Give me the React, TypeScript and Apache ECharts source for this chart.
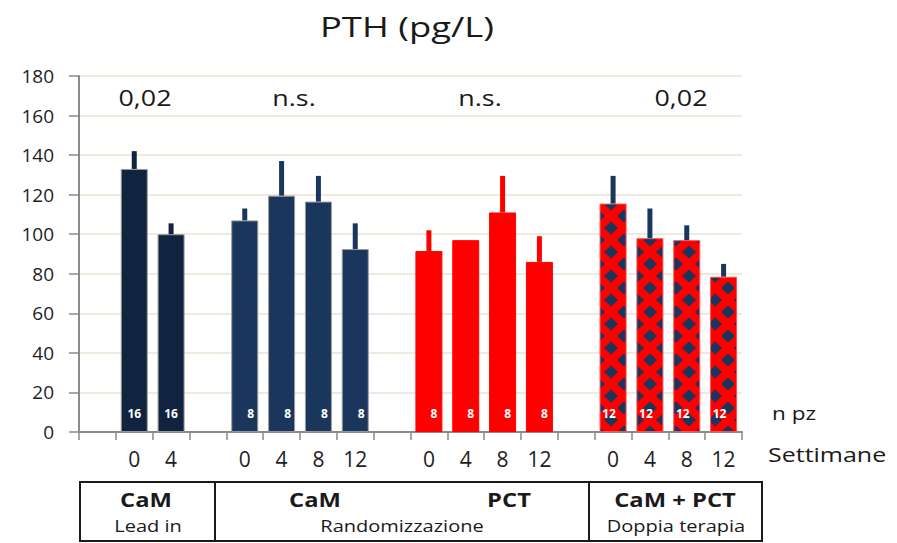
import React, { useEffect, useRef } from 'react';
import * as echarts from 'echarts';

// x-axis tick labels (weeks); empty strings are spacer categories
const weekLabels = ['', '0', '4', '', '0', '4', '8', '12', '', '0', '4', '8', '12', '', '0', '4', '8', '12'];

// PTH means and upper error values
const leadInMean = [133, 100];
const leadInUpper = [142, 105.5];
const leadInN = [16, 16];

const camMean = [107, 119.5, 116.5, 92.5];
const camUpper = [113, 137, 129.5, 105.5];
const camN = [8, 8, 8, 8];

const pctMean = [91.5, 97, 111, 86];
const pctUpper = [102, 97, 129.5, 99];
const pctN = [8, 8, 8, 8];

const dualMean = [115.5, 98, 97, 78.5];
const dualUpper = [129.5, 113, 104.5, 85];
const dualN = [12, 12, 12, 12];

const pValues = ['0,02', 'n.s.', 'n.s.', '0,02'];

const NAVY_DARK = '#10233f';
const NAVY = '#1b365d';
const RED = '#ff0000';

function makePattern() {
  const w = 26;
  const h = 24;
  const a = 7; // half width of diamond
  const b = 6.5; // half height
  const c = document.createElement('canvas');
  c.width = w;
  c.height = h;
  const ctx = c.getContext('2d')!;
  ctx.fillStyle = RED;
  ctx.fillRect(0, 0, w, h);
  ctx.fillStyle = NAVY;
  const centers = [[w / 2, h / 2], [0, 0], [w, 0], [0, h], [w, h]];
  centers.forEach(([cx, cy]) => {
    ctx.beginPath();
    ctx.moveTo(cx, cy - b);
    ctx.lineTo(cx + a, cy);
    ctx.lineTo(cx, cy + b);
    ctx.lineTo(cx - a, cy);
    ctx.closePath();
    ctx.fill();
  });
  return { image: c, repeat: 'repeat', imageWidth: w, imageHeight: h, x: 0, y: 0 } as any;
}

export default function App() {
  const ref = useRef<HTMLDivElement>(null);
  useEffect(() => {
    if (!ref.current) return;
    const chart = echarts.init(ref.current, undefined, { renderer: 'svg' });
    const pattern = makePattern();

    const groups = [
      { start: 1, mean: leadInMean, upper: leadInUpper, n: leadInN, fill: NAVY_DARK, err: NAVY_DARK, border: '#9a9a9a', off: 0 },
      { start: 4, mean: camMean, upper: camUpper, n: camN, fill: NAVY, err: NAVY, border: '#9a9a9a', off: 6 },
      { start: 9, mean: pctMean, upper: pctUpper, n: pctN, fill: RED, err: RED, border: RED, off: 5 },
      { start: 14, mean: dualMean, upper: dualUpper, n: dualN, fill: pattern, err: NAVY, border: '#ff5050', off: -4 },
    ];

    const barData: any[] = weekLabels.map(() => '-');
    const errData: any[] = [];
    groups.forEach((g) => {
      g.mean.forEach((m, i) => {
        const idx = g.start + i;
        barData[idx] = {
          value: m,
          itemStyle: { color: g.fill, borderColor: g.border, borderWidth: 1 },
          label: { formatter: String(g.n[i]), offset: [g.off, 0] },
        };
        if (g.upper[i] > m) errData.push({ value: [idx, m, g.upper[i]], color: g.err });
      });
    });

    chart.setOption({
      animation: false,
      textStyle: { fontFamily: 'Open Sans' },
      grid: { left: 79, right: 155, top: 76, bottom: 111 },
      xAxis: {
        type: 'category',
        data: weekLabels,
        axisLine: { lineStyle: { color: '#8a8a8a', width: 2 } },
        axisTick: { show: true, interval: 0, length: 8, lineStyle: { color: '#8a8a8a', width: 1.5 } },
        axisLabel: { interval: 0, fontSize: 21, color: '#1e1e1e', margin: 16 },
        splitLine: { show: false },
      },
      yAxis: {
        type: 'value',
        min: 0,
        max: 180,
        interval: 20,
        axisLine: { show: true, lineStyle: { color: '#8a8a8a', width: 2 } },
        axisTick: { show: true, length: 10, lineStyle: { color: '#8a8a8a', width: 1.5 } },
        axisLabel: { fontSize: 19, color: '#1e1e1e', margin: 25 },
        splitLine: { lineStyle: { color: '#e8e3d3', width: 1.5 } },
      },
      series: [
        {
          type: 'bar',
          data: barData,
          barWidth: 27,
          label: {
            show: true,
            position: 'insideBottom',
            distance: 13,
            color: '#ffffff',
            fontSize: 12,
            fontWeight: 'bold',
          },
          z: 2,
        },
        {
          type: 'custom',
          data: errData,
          encode: { x: 0, y: [1, 2] },
          z: 3,
          renderItem: (params: any, api: any) => {
            const c = api.value(0);
            const p1 = api.coord([c, api.value(1)]);
            const p2 = api.coord([c, api.value(2)]);
            const item = errData[params.dataIndex];
            return {
              type: 'rect',
              shape: { x: p1[0] - 2.5, y: p2[1], width: 5, height: p1[1] - p2[1] },
              style: { fill: item.color },
            };
          },
        },
      ],
      graphic: [
        { type: 'text', x: 407, y: 26, scaleX: 1.3, style: { text: 'PTH (pg/L)', font: '28px "Open Sans"', fill: '#1a1a1a', textAlign: 'center', textVerticalAlign: 'middle' } },
        ...[145, 294, 480, 681].map((x, i) => ({
          type: 'text', x, y: 98, scaleX: 1.28,
          style: { text: pValues[i], font: '21px "Open Sans"', fill: '#1a1a1a', textAlign: 'center', textVerticalAlign: 'middle' },
        })),
        { type: 'text', x: 772, y: 413, scaleX: 1.25, style: { text: 'n pz', font: '18px "Open Sans"', fill: '#1a1a1a', textAlign: 'left', textVerticalAlign: 'middle' } },
        { type: 'text', x: 768, y: 454, scaleX: 1.25, style: { text: 'Settimane', font: '20px "Open Sans"', fill: '#1a1a1a', textAlign: 'left', textVerticalAlign: 'middle' } },
        { type: 'rect', shape: { x: 80, y: 482, width: 682, height: 59 }, style: { fill: 'none', stroke: '#1a1a1a', lineWidth: 2 } },
        { type: 'line', shape: { x1: 215, y1: 482, x2: 215, y2: 541 }, style: { stroke: '#1a1a1a', lineWidth: 2 } },
        { type: 'line', shape: { x1: 589, y1: 482, x2: 589, y2: 541 }, style: { stroke: '#1a1a1a', lineWidth: 2 } },
        { type: 'text', x: 146, y: 499, scaleX: 1.25, style: { text: 'CaM', font: 'bold 19px "Open Sans"', fill: '#1a1a1a', textAlign: 'center', textVerticalAlign: 'middle' } },
        { type: 'text', x: 148, y: 526, scaleX: 1.25, style: { text: 'Lead in', font: '16px "Open Sans"', fill: '#1a1a1a', textAlign: 'center', textVerticalAlign: 'middle' } },
        { type: 'text', x: 315, y: 499, scaleX: 1.25, style: { text: 'CaM', font: 'bold 19px "Open Sans"', fill: '#1a1a1a', textAlign: 'center', textVerticalAlign: 'middle' } },
        { type: 'text', x: 509, y: 499, scaleX: 1.25, style: { text: 'PCT', font: 'bold 19px "Open Sans"', fill: '#1a1a1a', textAlign: 'center', textVerticalAlign: 'middle' } },
        { type: 'text', x: 402, y: 526, scaleX: 1.25, style: { text: 'Randomizzazione', font: '16px "Open Sans"', fill: '#1a1a1a', textAlign: 'center', textVerticalAlign: 'middle' } },
        { type: 'text', x: 675, y: 499, scaleX: 1.25, style: { text: 'CaM + PCT', font: 'bold 19px "Open Sans"', fill: '#1a1a1a', textAlign: 'center', textVerticalAlign: 'middle' } },
        { type: 'text', x: 676, y: 526, scaleX: 1.25, style: { text: 'Doppia terapia', font: '16px "Open Sans"', fill: '#1a1a1a', textAlign: 'center', textVerticalAlign: 'middle' } },
      ],
    });
    return () => chart.dispose();
  }, []);
  return <div ref={ref} style={{ position: 'fixed', left: 0, top: 0, width: 897, height: 543, background: '#fff' }} />;
}
